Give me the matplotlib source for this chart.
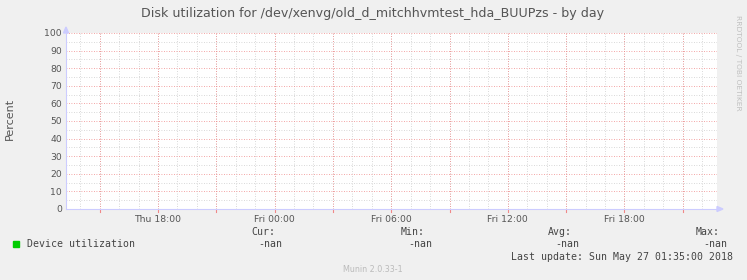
import matplotlib
matplotlib.use("Agg")
from matplotlib import pyplot as plt
import numpy as np

# time axis in hours since Thu 00:00
t_start, t_end = 13.27, 46.76
tick_hours = [18, 24, 30, 36, 42]
tick_labels = ["Thu 18:00", "Fri 00:00", "Fri 06:00", "Fri 12:00", "Fri 18:00"]
yticks = [0, 10, 20, 30, 40, 50, 60, 70, 80, 90, 100]

# no data was collected: every sample is nan
times = [t_start, t_end]
utilization = [np.nan, np.nan]

legend_cols = ["Cur:", "Min:", "Avg:", "Max:"]
legend_vals = ["-nan", "-nan", "-nan", "-nan"]

bg = "#f0f0f0"
txt = "#555555"
axis_col = "#ccccff"

fig = plt.figure(figsize=(7.47, 2.80), dpi=100, facecolor=bg)
W, H = 747.0, 280.0
ax = fig.add_axes([66 / W, (H - 209) / H, (717 - 66) / W, (209 - 33) / H])
ax.set_facecolor("white")

ax.plot(times, utilization, color="#00cc00", lw=1)

ax.set_xlim(t_start, t_end)
ax.set_ylim(0, 100)

# minor grid: every hour / every 5 %
for h in range(14, 47):
    ax.axvline(h, color="#cccccc", lw=0.6, ls=(0, (1, 2)), zorder=1)
for v in range(5, 100, 10):
    ax.axhline(v, color="#cccccc", lw=0.6, ls=(0, (1, 2)), zorder=1)
# major grid: every 3 hours / every 10 %
for h in range(15, 47, 3):
    ax.axvline(h, color="#f08888", lw=0.6, ls=(0, (1, 2)), zorder=2)
for v in yticks[1:]:
    ax.axhline(v, color="#f08888", lw=0.6, ls=(0, (1, 2)), zorder=2)

ax.set_xticks(tick_hours)
ax.set_xticklabels(tick_labels)
ax.set_yticks(yticks)
ax.tick_params(axis="both", labelsize=6.7, colors=txt, length=0, pad=4)
ax.tick_params(axis="y", pad=3)
for s in ["top", "right"]:
    ax.spines[s].set_visible(False)
ax.spines["left"].set_color(axis_col)
ax.spines["bottom"].set_color(axis_col)
ax.spines["left"].set_linewidth(0.8)
ax.spines["bottom"].set_linewidth(0.8)

# small tick marks at the major lines
for h in range(15, 47, 3):
    ax.plot([h, h], [-1.5, 0], color="#f08888", lw=0.8, clip_on=False)

# axis arrows
fig.patches.append(plt.Polygon([[63.5 / W, 1 - 33 / H], [68.5 / W, 1 - 33 / H], [66 / W, 1 - 27 / H]],
                               closed=True, transform=fig.transFigure, color=axis_col))
fig.patches.append(plt.Polygon([[717 / W, 1 - 206.5 / H], [717 / W, 1 - 211.5 / H], [723 / W, 1 - 209 / H]],
                               closed=True, transform=fig.transFigure, color=axis_col))

fig.text(373 / W, 1 - 13 / H, "Disk utilization for /dev/xenvg/old_d_mitchhvmtest_hda_BUUPzs - by day",
         ha="center", va="center", fontsize=9.1, color="#555555")
fig.text(10 / W, 1 - 119 / H, "Percent", rotation=90, ha="center", va="center",
         fontsize=8, color=txt)
fig.text(738 / W, 1 - 15 / H, "RRDTOOL / TOBI OETIKER", rotation=-90, ha="center", va="top",
         fontsize=5.4, color="#c0c0c0")

mono = "DejaVu Sans Mono"
fig.patches.append(plt.Rectangle((13 / W, 1 - 247 / H), 6 / W, 6 / H,
                                 transform=fig.transFigure, color="#00cc00"))
fig.text(27 / W, 1 - 244 / H, "Device utilization", ha="left", va="center",
         fontsize=7.1, family=mono, color="#444444")
col_right = [275, 425, 572, 720]
for x, c, v in zip(col_right, legend_cols, legend_vals):
    fig.text(x / W, 1 - 232 / H, c, ha="right", va="center", fontsize=7.1, family=mono, color="#444444")
    fig.text((x + 7) / W, 1 - 244 / H, v, ha="right", va="center", fontsize=7.1, family=mono, color="#444444")
fig.text(733 / W, 1 - 257 / H, "Last update: Sun May 27 01:35:00 2018", ha="right", va="center",
         fontsize=7.1, family=mono, color="#444444")
fig.text(373 / W, 1 - 270 / H, "Munin 2.0.33-1", ha="center", va="center",
         fontsize=5.8, color="#bbbbbb")

fig.savefig("out.png", dpi=100, facecolor=bg)
